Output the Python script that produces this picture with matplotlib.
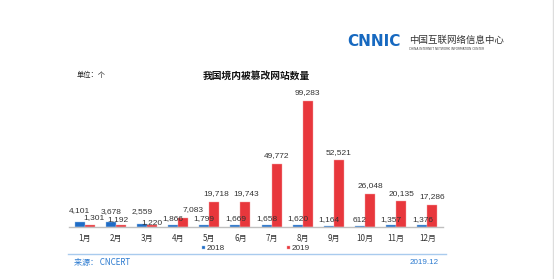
import numpy as np
import matplotlib
matplotlib.use("Agg")
import matplotlib.pyplot as plt

plt.rcParams['font.family'] = ['Noto Sans CJK SC', 'DejaVu Sans']

months = ['1月', '2月', '3月', '4月', '5月', '6月', '7月', '8月', '9月', '10月', '11月', '12月']
v2018 = [4101, 3678, 2559, 1866, 1799, 1669, 1658, 1620, 1164, 612, 1357, 1376]
v2019 = [1301, 1192, 1220, 7083, 19718, 19743, 49772, 99283, 52521, 26048, 20135, 17286]

blue = '#1f6cc6'
red = '#e8373c'

W, H = 554, 279
fig = plt.figure(figsize=(W / 100, H / 100), dpi=100)
fig.patch.set_facecolor('white')

def px(v):
    # pixels -> points at dpi 100
    return v * 0.72

# axes in pixel coords: left 69, right 443, bottom 227, top 87
ax = fig.add_axes([69 / W, 1 - 227 / H, (443 - 69) / W, (227 - 87) / H])
x = np.arange(len(months))
bw = 0.32
ax.bar(x - bw / 2, v2018, bw, color=blue, label='2018', edgecolor='#9ec3ea', linewidth=0.3)
ax.bar(x + bw / 2, v2019, bw, color=red, label='2019', edgecolor='#f3a5a7', linewidth=0.3)

ax.set_xlim(-0.5, len(months) - 0.5)
ax.set_ylim(0, 110000)
ax.set_yticks([])
ax.set_xticks(x)
ax.set_xticklabels(months, fontsize=5.8, color='#333333')
ax.tick_params(axis='x', length=0, pad=5)
for s in ['top', 'right', 'left']:
    ax.spines[s].set_visible(False)
ax.spines['bottom'].set_color('#bfbfbf')
ax.spines['bottom'].set_linewidth(1.0)

# label nudges in pixels
blue_dy = [11, 11, 12, 6, 6, 6, 6, 6, 6, 6, 6, 6]
red_dx = [4, -3, 0, 10, 2, 1, 0, 0, 0, 0, 0, 0]
red_dy = [8, 5.5, 3, 8, 8, 8, 8, 8, 8, 8, 8, 8]
lab_font = dict(fontsize=6, color='#333333', family='Liberation Sans')
for i in range(len(months)):
    ax.annotate(f'{v2018[i]:,}', (x[i] - bw / 2, v2018[i]), xytext=(0, px(blue_dy[i])),
                textcoords='offset points', ha='center', va='center', **lab_font)
    ax.annotate(f'{v2019[i]:,}', (x[i] + bw / 2, v2019[i]), xytext=(px(red_dx[i]), px(red_dy[i])),
                textcoords='offset points', ha='center', va='center', **lab_font)

leg = ax.legend(loc='center', bbox_to_anchor=(0.5, (227 - 249) / 140), ncol=2, frameon=False,
                prop={'family': 'Liberation Sans', 'size': 5.9},
                handlelength=0.35, handleheight=0.35, columnspacing=7.5,
                handletextpad=0.3, borderaxespad=0)
for t in leg.get_texts():
    t.set_color('#333333')

# header texts
fig.text(77 / W, 1 - 75 / H, '单位：个', fontsize=5.2, va='center', ha='left', color='#222222')
fig.text(256 / W, 1 - 76 / H, '我国境内被篡改网站数量', fontsize=7, va='center', ha='center',
         fontweight='bold', color='#111111')

# logo
fig.text(347 / W, 1 - 42 / H, 'CNNIC', fontsize=11, va='center', ha='left', color='#1769c0',
         fontweight='bold', family='DejaVu Sans')
fig.text(409 / W, 1 - 40 / H, '中国互联网络信息中心', fontsize=6.8, va='center', ha='left', color='#333333')
fig.text(409 / W, 1 - 49 / H, 'CHINA INTERNET NETWORK INFORMATION CENTER', fontsize=2.2,
         va='center', ha='left', color='#444444', family='DejaVu Sans')

# footer
fig.add_artist(plt.Line2D([68 / W, 446 / W], [1 - 254 / H, 1 - 254 / H], color='#a9cbee', lw=1))
fig.text(74 / W, 1 - 263 / H, '来源： CNCERT', fontsize=5.8, va='center', ha='left', color='#2b7ad0')
fig.text(438.5 / W, 1 - 263 / H, '2019.12', fontsize=5.8, va='center', ha='right', color='#2b7ad0',
         family='Liberation Sans')
fig.add_artist(plt.Line2D([553 / W, 553 / W], [0, 1], color='#dddddd', lw=1))

fig.savefig('out.png', dpi=100)
